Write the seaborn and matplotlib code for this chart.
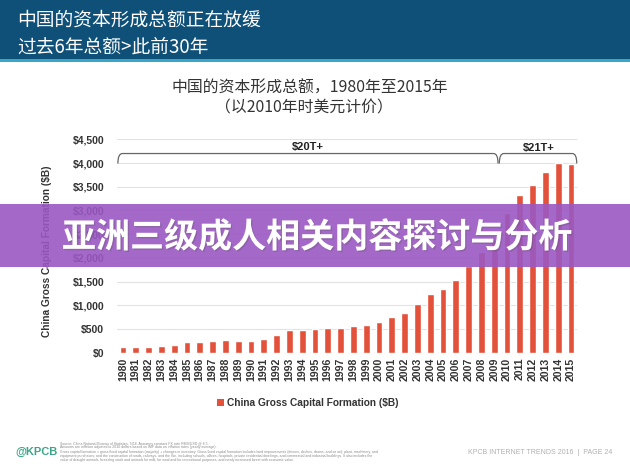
import matplotlib
matplotlib.use("Agg")
import matplotlib.pyplot as plt
import matplotlib.patheffects as pe
from matplotlib.patches import Rectangle, Patch, PathPatch
from matplotlib.path import Path
import seaborn as sns
import pandas as pd

# ---------------- data ----------------
years = [str(y) for y in range(1980, 2016)]
values = [113, 113, 120, 134, 169, 218, 225, 254, 275, 254,
          246, 289, 366, 472, 479, 493, 517, 528, 556, 592,
          641, 746, 838, 1035, 1232, 1345, 1535, 1825, 2130, 2380,
          2950, 3325, 3535, 3803, 4000, 3972]
ytick_values = [0, 500, 1000, 1500, 2000, 2500, 3000, 3500, 4000, 4500]
ytick_labels = ["$0", "$500", "$1,000", "$1,500", "$2,000", "$2,500",
                "$3,000", "$3,500", "$4,000", "$4,500"]
series_name = "China Gross Capital Formation ($B)"
bracket_labels = ["$20T+", "$21T+"]

header_title = ["中国的资本形成总额正在放缓", "过去6年总额>此前30年"]
chart_title = ["中国的资本形成总额，1980年至2015年", "（以2010年时美元计价）"]
banner_text = "亚洲三级成人相关内容探讨与分析"
footer_right = "KPCB INTERNET TRENDS 2016  |  PAGE 24"
footer_notes = (
    "Source: China National Bureau of Statistics, 5/16. Assumes constant FX rate RMB/USD @ 6.5.\n"
    "Amounts are inflation adjusted to 2010 dollars based on IMF data on inflation rates (yearly average).\n"
    "Gross capital formation = gross fixed capital formation (majority) + changes in inventory. Gross fixed capital formation includes land improvements (fences, ditches, drains, and so on); plant, machinery, and\n"
    "equipment purchases; and the construction of roads, railways, and the like, including schools, offices, hospitals, private residential dwellings, and commercial and industrial buildings. It also includes the\n"
    "value of draught animals, breeding stock and animals for milk, for wool and for recreational purposes, and newly increased forest with economic value."
)

df = pd.DataFrame({"year": years, "value": values})

# ---------------- style ----------------
sns.set_theme(style="white")
plt.rcParams["font.family"] = ["Liberation Sans", "DejaVu Sans"]
CJK = ["Noto Sans CJK SC", "DejaVu Sans"]
BAR = "#e4513b"
TXT = "#333333"

W, H = 630, 472
fig = plt.figure(figsize=(W / 100, H / 100), dpi=100)
fig.patch.set_facecolor("white")

def fx(px):
    return px / W

def fy(py):
    return 1 - py / H

# header band
fig.add_artist(Rectangle((0, fy(59)), 1, 59 / H, transform=fig.transFigure,
                         facecolor="#0f5079", edgecolor="none", zorder=1))
fig.add_artist(Rectangle((0, fy(62)), 1, 3 / H, transform=fig.transFigure,
                         facecolor="#3aa6c6", edgecolor="none", zorder=1))
fig.text(fx(17), fy(20), header_title[0], family=CJK, fontsize=13.5,
         color="white", ha="left", va="center", zorder=2)
fig.text(fx(17), fy(47), header_title[1], family=CJK, fontsize=13.5,
         color="white", ha="left", va="center", zorder=2)

# chart title
fig.text(fx(310), fy(88), chart_title[0], family=CJK, fontsize=11.4,
         color=TXT, ha="center", va="center")
fig.text(fx(304), fy(108), chart_title[1], family=CJK, fontsize=11.4,
         color=TXT, ha="center", va="center")

# ---------------- axes ----------------
ax_left, ax_right = 116.6, 577.4
ax_bottom, ax_top = 352.7, 139.3
ax = fig.add_axes([fx(ax_left), fy(ax_bottom), (ax_right - ax_left) / W,
                   (ax_bottom - ax_top) / H])
sns.barplot(data=df, x="year", y="value", color=BAR, width=0.52,
            saturation=1, ax=ax, zorder=3)
ax.set_xlim(-0.5, len(years) - 0.5)
ax.set_ylim(0, 4500)
ax.set_yticks(ytick_values)
ax.set_yticklabels(ytick_labels)
ax.set_xticks(range(len(years)))
ax.set_xticklabels(years, rotation=90)
for s in ax.spines.values():
    s.set_visible(False)
ax.yaxis.grid(True, color="#e2e2e2", linewidth=0.8, zorder=0)
ax.xaxis.grid(False)
ax.set_axisbelow(True)
ax.tick_params(axis="y", length=0, pad=9, labelsize=7.5, labelcolor=TXT)
ax.tick_params(axis="x", length=0, pad=3.8, labelsize=7.6, labelcolor=TXT)
for lab in ax.get_xticklabels() + ax.get_yticklabels():
    lab.set_fontweight("bold")
ax.set_xlabel("")
ax.set_ylabel(series_name, fontsize=7.3, fontweight="bold", color=TXT)
ax.yaxis.label.set_va("center")
ax.yaxis.set_label_coords((47 - ax_left) / (ax_right - ax_left),
                          (ax_bottom - 251) / (ax_bottom - ax_top))

# brackets
def bracket(x0, x1, y_low, y_high):
    c = 0.35
    verts = [(x0, y_low), (x0, y_high), (x0 + c, y_high),
             (x1 - c, y_high),
             (x1 - c, y_high), (x1, y_high), (x1, y_low)]
    codes = [Path.MOVETO, Path.CURVE3, Path.CURVE3,
             Path.LINETO,
             Path.LINETO, Path.CURVE3, Path.CURVE3]
    ax.add_patch(PathPatch(Path(verts, codes), facecolor="none",
                           edgecolor="#666666", lw=0.9, clip_on=False, zorder=5))

bracket(-0.4, 29.3, 3990, 4200)
bracket(29.4, 35.45, 3990, 4200)
ax.text(14.45, 4330, bracket_labels[0], ha="center", va="center",
        fontsize=8, fontweight="bold", color="#222222", clip_on=False)
ax.text(32.45, 4310, bracket_labels[1], ha="center", va="center",
        fontsize=8, fontweight="bold", color="#222222", clip_on=False)

# legend
leg = fig.legend(handles=[Patch(facecolor=BAR, edgecolor="none", label=series_name)],
                 loc="center", bbox_to_anchor=(fx(308), fy(403)), frameon=False,
                 handlelength=0.6, handleheight=0.6, handletextpad=0.35,
                 prop={"size": 7.3, "weight": "bold"})
for t in leg.get_texts():
    t.set_color(TXT)

# footer
fig.text(fx(15), fy(452), "@KPCB", fontsize=8, fontweight="bold",
         color="#3aa587", ha="left", va="center")
fig.text(fx(60), fy(451.5), footer_notes, fontsize=2.5, color="#8a8a8a",
         ha="left", va="center", linespacing=1.05)
fig.text(fx(468), fy(453), footer_right, fontsize=5, color="#b0b0b0",
         ha="left", va="center")

# overlay banner
fig.add_artist(Rectangle((0, fy(266.7)), 1, (266.7 - 204.3) / H,
                         transform=fig.transFigure, facecolor="#9a58c2",
                         edgecolor="none", alpha=0.9, zorder=10))
fig.text(fx(317), fy(237), banner_text, family=CJK, fontsize=24.5,
         fontweight="bold", color="white", ha="center", va="center", zorder=11,
         path_effects=[pe.withSimplePatchShadow(offset=(1, -1), alpha=0.25)])

fig.savefig("out.png", dpi=100)
